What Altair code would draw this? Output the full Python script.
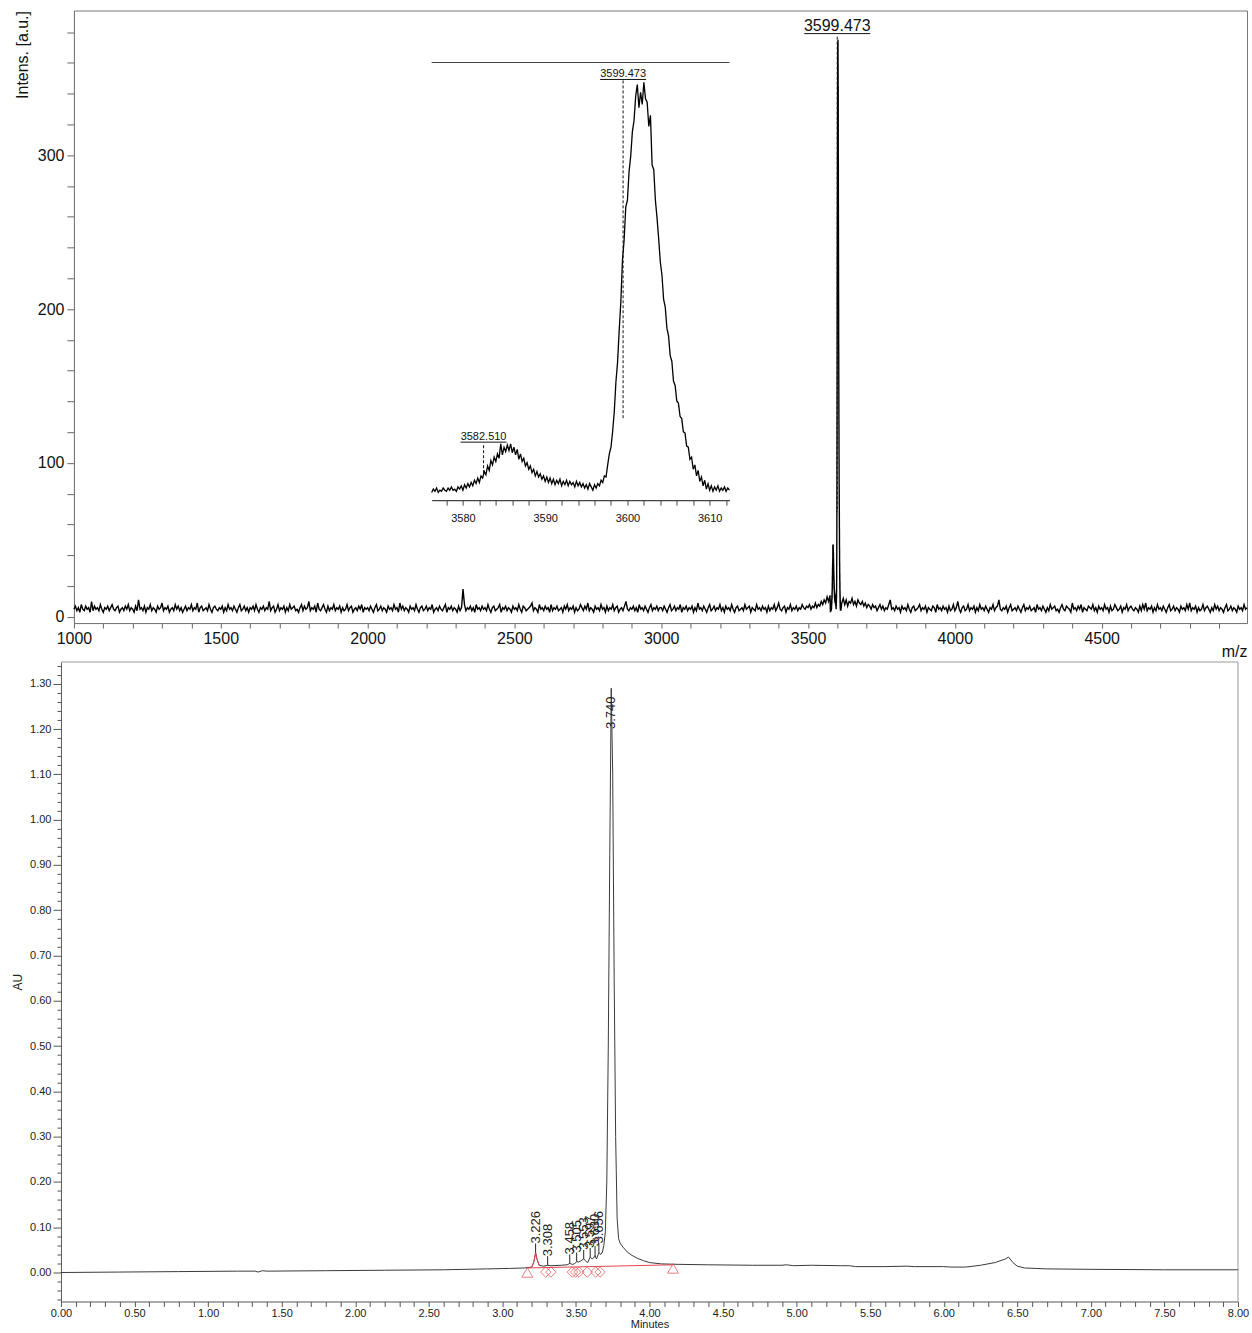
import altair as alt
import numpy as np
import pandas as pd

FONT = "Liberation Sans"
NARROW = "Liberation Sans Narrow, Liberation Sans"

# ---------------- MALDI-TOF spectrum ----------------
# baseline counts, one reading every 5 m/z
noise_1000_1995 = [
    5, 7, 4, 6, 3, 8, 5, 4, 7, 5, 6, 3, 10, 4, 7, 5, 6, 4, 8, 5,
    3, 6, 5, 7, 4, 6, 8, 5, 4, 6, 7, 3, 5, 6, 4, 7, 5, 8, 4, 6,
    5, 3, 7, 4, 11, 5, 6, 4, 7, 3, 6, 5, 8, 4, 6, 5, 3, 7, 5, 6,
    9, 4, 6, 5, 7, 3, 5, 6, 4, 8, 5, 7, 4, 6, 3, 5, 7, 4, 6, 5,
    8, 4, 6, 5, 9, 3, 6, 7, 4, 5, 6, 4, 8, 5, 3, 6, 7, 5, 4, 6,
    5, 7, 3, 6, 4, 8, 5, 6, 4, 7, 5, 3, 6, 8, 4, 5, 7, 4, 6, 3,
    6, 5, 7, 4, 8, 5, 3, 6, 5, 7, 4, 6, 5, 10, 4, 6, 7, 3, 5, 8,
    4, 6, 5, 7, 3, 6, 4, 8, 5, 6, 7, 4, 5, 3, 6, 8, 4, 7, 5, 6,
    10, 4, 6, 5, 7, 3, 9, 5, 4, 6, 8, 5, 3, 7, 4, 6, 5, 8, 4, 6,
    5, 7, 3, 6, 4, 5, 8, 4, 6, 7, 3, 5, 6, 4, 7, 5, 8, 3, 6, 5,
]
noise_2000_2995 = [
    6, 4, 7, 5, 3, 6, 8, 4, 5, 7, 4, 6, 5, 3, 7, 5, 6, 4, 8, 5,
    6, 3, 9, 5, 7, 4, 6, 5, 3, 7, 5, 6, 4, 8, 5, 3, 6, 7, 4, 5,
    7, 4, 6, 5, 8, 3, 5, 6, 4, 7, 5, 4, 6, 8, 3, 6, 5, 7, 4, 6,
    5, 3, 7, 4, 6, 18, 8, 4, 6, 5, 7, 4, 6, 3, 8, 5, 6, 4, 7, 5,
    6, 4, 8, 5, 3, 6, 7, 4, 5, 6, 8, 3, 6, 5, 7, 4, 6, 5, 3, 7,
    5, 6, 4, 8, 5, 3, 7, 6, 4, 5, 6, 7, 9, 4, 6, 5, 3, 8, 5, 6,
    4, 7, 5, 6, 3, 8, 4, 6, 5, 7, 4, 5, 6, 3, 7, 5, 8, 4, 6, 5,
    7, 3, 6, 4, 5, 8, 6, 4, 7, 5, 9, 4, 6, 5, 3, 7, 5, 6, 4, 8,
    5, 6, 3, 7, 4, 6, 5, 8, 4, 6, 7, 3, 5, 6, 4, 7, 10, 5, 4, 6,
    5, 7, 4, 6, 3, 8, 5, 6, 4, 7, 5, 3, 6, 8, 4, 6, 5, 7, 4, 6,
]
noise_3000_3575 = [
    6, 4, 7, 5, 3, 6, 8, 4, 5, 7, 4, 6, 5, 8, 3, 6, 5, 7, 4, 6,
    5, 7, 3, 6, 4, 9, 5, 6, 4, 7, 5, 3, 6, 8, 4, 5, 7, 4, 6, 5,
    8, 4, 6, 3, 7, 5, 6, 4, 8, 5, 3, 6, 7, 4, 5, 6, 4, 8, 5, 6,
    7, 3, 6, 5, 4, 8, 5, 6, 4, 7, 5, 6, 3, 7, 4, 6, 5, 8, 4, 6,
    9, 5, 4, 6, 7, 3, 6, 5, 8, 4, 6, 5, 7, 4, 6, 5, 8, 6, 5, 7,
    6, 8, 5, 7, 6, 9, 6, 8, 7, 10, 8, 11, 9, 13, 10, 14,
]
noise_3615_4995 = [
    9, 12, 8, 11, 7, 10, 9, 12, 8, 10, 7, 11, 9, 8, 10, 7, 9, 6, 8, 7,
    5, 8, 6, 7, 4, 6, 8, 5, 7, 4, 6, 5, 8, 11, 5, 6, 4, 7, 5, 6,
    3, 7, 5, 6, 4, 8, 5, 3, 6, 7, 4, 5, 6, 8, 4, 6, 5, 7, 3, 6,
    5, 4, 7, 6, 3, 8, 5, 6, 4, 7, 5, 6, 3, 7, 4, 5, 8, 4, 6, 10,
    5, 3, 6, 7, 4, 5, 8, 4, 6, 5, 7, 3, 6, 4, 8, 5, 6, 4, 7, 5,
    3, 6, 5, 8, 4, 6, 7, 11, 5, 4, 6, 5, 7, 3, 6, 8, 4, 5, 6, 4,
    7, 5, 3, 6, 8, 4, 6, 5, 7, 4, 5, 6, 3, 8, 5, 6, 4, 7, 5, 3,
    6, 4, 8, 5, 6, 7, 4, 5, 3, 6, 8, 5, 4, 7, 6, 5, 3, 9, 5, 6,
    4, 7, 5, 8, 3, 6, 5, 4, 7, 6, 5, 8, 4, 6, 3, 7, 5, 6, 4, 8,
    5, 6, 3, 7, 4, 5, 8, 6, 4, 5, 7, 3, 6, 5, 8, 4, 6, 7, 5, 4,
    6, 5, 3, 7, 4, 8, 5, 9, 4, 6, 5, 7, 3, 6, 4, 8, 5, 6, 4, 7,
    5, 3, 6, 8, 4, 5, 7, 4, 6, 5, 3, 7, 5, 6, 4, 8, 5, 9, 4, 6,
    5, 7, 3, 6, 4, 5, 8, 4, 6, 7, 5, 3, 6, 4, 8, 5, 7, 4, 6, 5,
    3, 6, 8, 4, 5, 7, 4, 6, 5, 3, 7, 5, 6, 4, 8, 5, 6,
]
baseline_segments = [
    (1000, noise_1000_1995),
    (2000, noise_2000_2995),
    (3000, noise_3000_3575),
    (3615, noise_3615_4995),
]
BASELINE_STEP = 5

# molecular-ion region, one reading every 0.2 m/z starting at 3576.2
cluster_mz_start = 3576.2
cluster_mz_step = 0.2
cluster_intensity = [
    3, 6, 4, 7, 3, 5, 4, 7, 5, 4, 7, 5, 8, 5, 6, 4, 8, 6, 9, 5,
    10, 7, 11, 8, 12, 9, 14, 11, 16, 12, 18, 16, 22, 19, 27, 23, 32, 28, 35, 31,
    38, 34, 47, 37, 44, 40, 46, 41, 47, 39, 44, 37, 42, 33, 38, 31, 34, 27, 30, 24,
    27, 21, 24, 18, 22, 17, 20, 15, 18, 13, 17, 12, 16, 11, 15, 10, 14, 11, 15, 9,
    13, 10, 14, 9, 13, 10, 12, 8, 13, 9, 12, 8, 11, 7, 10, 6, 11, 8, 5, 10,
    7, 11, 9, 14, 12, 18, 17, 28, 38, 44, 58, 76, 103, 121, 150, 176, 214, 232, 262, 268,
    294, 308, 330, 340, 362, 373, 352, 366, 355, 375, 360, 357, 335, 345, 300, 296, 268, 252, 233, 212,
    200, 178, 171, 152, 145, 127, 122, 104, 100, 86, 84, 72, 70, 58, 57, 45, 44, 33, 35, 24,
    28, 18, 23, 13, 17, 9, 14, 6, 11, 5, 9, 4, 8, 5, 9, 4, 7, 5, 8, 4,
    7, 5,
]

main_peak_mz = [3599.473]
zoom_peak_mz = [3599.473, 3582.510]

# ---------------- HPLC chromatogram ----------------
chrom_time = [
    0.00, 0.40, 0.80, 1.20, 1.32, 1.34, 1.37, 1.40, 1.80, 2.20, 2.60, 2.90, 3.05, 3.15,
    3.20, 3.215, 3.226, 3.235, 3.25, 3.28, 3.308, 3.33, 3.40, 3.44, 3.458, 3.475, 3.49,
    3.505, 3.52, 3.535, 3.553, 3.57, 3.58, 3.597, 3.61, 3.62, 3.630, 3.64, 3.656, 3.67,
    3.68, 3.69, 3.70, 3.71, 3.72, 3.73, 3.74, 3.75, 3.76, 3.77, 3.78, 3.79, 3.80, 3.82,
    3.85, 3.88, 3.92, 3.96, 4.00, 4.08, 4.20, 4.40, 4.70, 4.90, 4.93, 4.98, 5.10, 5.30,
    5.36, 5.40, 5.60, 5.75, 5.80, 6.00, 6.05, 6.15, 6.25, 6.35, 6.42, 6.44, 6.47, 6.50,
    6.55, 6.70, 7.00, 7.50, 8.00,
]
chrom_au = [
    0.000, 0.001, 0.002, 0.003, 0.003, 0.001, 0.004, 0.003, 0.004, 0.005, 0.006, 0.008, 0.009, 0.010,
    0.012, 0.024, 0.044, 0.030, 0.016, 0.014, 0.016, 0.015, 0.016, 0.017, 0.020, 0.018, 0.019,
    0.024, 0.023, 0.026, 0.030, 0.024, 0.022, 0.034, 0.030, 0.032, 0.038, 0.030, 0.044, 0.040,
    0.045, 0.060, 0.090, 0.200, 0.500, 0.920, 1.290, 1.100, 0.650, 0.300, 0.120, 0.075, 0.065, 0.056,
    0.045, 0.038, 0.031, 0.026, 0.022, 0.019, 0.018, 0.017, 0.016, 0.016, 0.017, 0.015, 0.016, 0.015,
    0.015, 0.013, 0.013, 0.014, 0.013, 0.013, 0.012, 0.012, 0.016, 0.022, 0.030, 0.034, 0.022, 0.014,
    0.010, 0.008, 0.007, 0.006, 0.006,
]
peak_times = [3.226, 3.308, 3.458, 3.505, 3.553, 3.597, 3.630, 3.656, 3.740]

# integration marks: baseline start/end triangles and peak-boundary diamonds
baseline_time = [3.17, 4.16]
baseline_au = [0.010, 0.017]
triangle_time = [3.17, 4.16]
triangle_au = [0.000, 0.009]
diamond_time = [3.295, 3.330, 3.476, 3.498, 3.521, 3.577, 3.635, 3.664]
diamond_au = [0.001, 0.001, 0.001, 0.001, 0.001, 0.001, 0.001, 0.001]

RED = "#e5474b"

# ---------------- tables ----------------
parts = []
for start, counts in baseline_segments:
    parts.append(pd.DataFrame({
        "mz": start + BASELINE_STEP * np.arange(len(counts)),
        "intensity": counts,
    }))
cluster_df = pd.DataFrame({
    "mz": np.round(cluster_mz_start + cluster_mz_step * np.arange(len(cluster_intensity)), 1),
    "intensity": cluster_intensity,
})
parts.append(cluster_df)
spectrum_df = pd.concat(parts, ignore_index=True).sort_values("mz")

chrom_df = pd.DataFrame({"t": chrom_time, "au": chrom_au})
apex_lookup = dict(zip(chrom_time, chrom_au))
peaks_df = pd.DataFrame({
    "t": peak_times,
    "text": [f"{t:.3f}" for t in peak_times],
    "apex": [apex_lookup[t] for t in peak_times],
})
major = peaks_df["apex"] > 1.0
peaks_df["label_at"] = np.where(major, peaks_df["apex"] - 0.09, peaks_df["apex"] + 0.02)
peaks_df["lead_top"] = peaks_df["apex"] + 0.02
peaks_df["minor"] = ~major

baseline_df = pd.DataFrame({"t": baseline_time, "au": baseline_au})
tri_df = pd.DataFrame({"t": triangle_time, "au": triangle_au})
dia_df = pd.DataFrame({"t": diamond_time, "au": diamond_au})

main_labels_df = pd.DataFrame({"mz": main_peak_mz, "text": [f"{m:.3f}" for m in main_peak_mz]})
zoom_labels_df = pd.DataFrame({
    "mz": zoom_peak_mz,
    "text": [f"{m:.3f}" for m in zoom_peak_mz],
    "level": [377.6, 48.6],
    "tick_top": [376.7, 45.8],
    "tick_bottom": [68.5, 20.5],
})
one_row = pd.DataFrame({"k": [0]})

MANY = 1000  # keep every listed tick (no thinning)

# ---------------- top panel: mass spectrum ----------------
MZ_DOMAIN = [1000, 4995]
INT_DOMAIN = [-4, 394]
mz_scale = alt.Scale(domain=MZ_DOMAIN, nice=False, zero=False)
int_scale = alt.Scale(domain=INT_DOMAIN, nice=False, zero=False)

main_x = alt.X("mz:Q", scale=mz_scale, axis=alt.Axis(
    values=list(range(1000, 5000, 100)), tickCount=MANY,
    labelExpr="datum.value % 500 === 0 ? datum.label : ''",
    format="d", tickSize=5, tickColor="#666", domainColor="#777",
    labelFont=FONT, labelFontSize=16, labelColor="#111", labelPadding=2,
    labelFlush=False, labelOverlap=False, grid=False,
    title="m/z", titleFont=FONT, titleFontSize=16, titleFontWeight="normal",
    titleColor="#111", titleAnchor="end", titleBaseline="top", titleY=20,
))
main_y = alt.Y("intensity:Q", scale=int_scale, axis=alt.Axis(
    values=list(range(0, 381, 20)), tickCount=MANY,
    labelExpr="datum.value % 100 === 0 ? datum.label : ''",
    format="d", tickSize=7, tickColor="#666", domainColor="#777",
    labelFont=FONT, labelFontSize=16, labelColor="#111", labelPadding=3,
    labelOverlap=False, grid=False,
    title="Intens. [a.u.]", titleFont=FONT, titleFontSize=16, titleFontWeight="normal",
    titleColor="#111", titleAnchor="end", titlePadding=7,
))

spectrum = alt.Chart(spectrum_df).mark_line(color="black", strokeWidth=1.4).encode(x=main_x, y=main_y)
main_text = alt.Chart(main_labels_df).mark_text(
    font=FONT, fontSize=16, color="#111", baseline="alphabetic", dy=-3
).encode(x="mz:Q", y=alt.datum(379), text="text:N")
main_underline = alt.Chart(main_labels_df).mark_rule(
    color="#111", strokeWidth=1, xOffset=-33, x2Offset=33
).encode(x="mz:Q", x2="mz:Q", y=alt.datum(379))
main_tick = alt.Chart(main_labels_df).mark_rule(
    color="#111", strokeWidth=1, strokeDash=[3, 2]
).encode(x="mz:Q", y=alt.datum(377), y2=alt.datum(68))
main_layer = alt.layer(spectrum, main_text, main_underline, main_tick)

# magnified view of the molecular-ion region, drawn inside the spectrum panel
ZOOM_MZ = [3576.2, 3612.4]
ZOOM_INT = [-4, 393]
zoom_x_scale = alt.Scale(domain=ZOOM_MZ, range=[358, 656], nice=False, zero=False)
zoom_y_scale = alt.Scale(domain=ZOOM_INT, range=[490, 52], nice=False, zero=False)
zoom_x_axis = alt.Axis(
    orient="bottom", offset=-123,
    values=list(range(3578, 3613, 2)), tickCount=MANY,
    labelExpr="datum.value % 10 === 0 ? datum.label : ''",
    format="d", tickSize=5, tickColor="#444", domainColor="#444", domainWidth=1.2,
    labelFont=FONT, labelFontSize=11, labelColor="#111", labelPadding=7,
    labelFlush=False, labelOverlap=False, grid=False, title=None,
)
zoom_line = alt.Chart(cluster_df).mark_line(color="black", strokeWidth=1.3).encode(
    x=alt.X("mz:Q", scale=zoom_x_scale, axis=zoom_x_axis),
    y=alt.Y("intensity:Q", scale=zoom_y_scale, axis=None),
)
zoom_top = alt.Chart(one_row).mark_rule(color="#444", strokeWidth=1.2).encode(
    x=alt.datum(ZOOM_MZ[0]), x2=alt.datum(ZOOM_MZ[1]), y=alt.datum(ZOOM_INT[1])
)
zoom_text = alt.Chart(zoom_labels_df).mark_text(
    font=FONT, fontSize=11, color="#111", baseline="alphabetic", dy=-2
).encode(x="mz:Q", y="level:Q", text="text:N")
zoom_underline = alt.Chart(zoom_labels_df).mark_rule(
    color="#111", strokeWidth=1, xOffset=-23, x2Offset=23
).encode(x="mz:Q", x2="mz:Q", y="level:Q")
zoom_tick = alt.Chart(zoom_labels_df).mark_rule(
    color="#111", strokeWidth=1, strokeDash=[3, 2]
).encode(x="mz:Q", y="tick_top:Q", y2="tick_bottom:Q")
zoom_layer = alt.layer(zoom_line, zoom_top, zoom_text, zoom_underline, zoom_tick)

top = alt.layer(main_layer, zoom_layer).resolve_scale(
    x="independent", y="independent"
).properties(width=1174, height=613, view=alt.ViewBackground(stroke="#777", strokeWidth=1))

# ---------------- bottom panel: chromatogram ----------------
# the time axis starts 13 px left of the spectrum's plot edge
T_DOMAIN = [0, 8]
AU_DOMAIN = [-0.064, 1.348]
t_scale = alt.Scale(domain=T_DOMAIN, range=[-13, 1165], nice=False, zero=False)
au_scale = alt.Scale(domain=AU_DOMAIN, nice=False, zero=False)
major_tick = "abs(datum.value * 10 - round(datum.value * 10)) < 1e-6"

bot_x = alt.X("t:Q", scale=t_scale, axis=alt.Axis(
    values=[i / 10 for i in range(0, 81)], tickCount=MANY,
    labelExpr="abs(datum.value * 2 - round(datum.value * 2)) < 1e-6 ? datum.label : ''",
    format=".2f", tickSize=5, tickColor="#555", domainColor="#555",
    labelFont=FONT, labelFontSize=11, labelColor="#222", labelPadding=1,
    labelFlush=False, labelOverlap=False, grid=False,
    title="Minutes", titleFont=FONT, titleFontSize=11, titleFontWeight="normal",
    titleColor="#222", titlePadding=0,
))
bot_y = alt.Y("au:Q", scale=au_scale, axis=alt.Axis(
    values=[i / 50 for i in range(-3, 68)], tickCount=MANY, offset=13,
    labelExpr=major_tick + " ? datum.label : ''",
    format=".2f",
    tickSize={"condition": {"test": major_tick, "value": 8}, "value": 4},
    tickColor="#555", domainColor="#555",
    labelFont=FONT, labelFontSize=11, labelColor="#222", labelPadding=2,
    labelOverlap=False, grid=False,
    title="AU", titleFont=NARROW, titleFontSize=12, titleFontWeight="normal",
    titleColor="#222", titlePadding=5,
))

trace = alt.Chart(chrom_df).mark_line(color="#3a3a3a", strokeWidth=1).encode(x=bot_x, y=bot_y)
trace_red = alt.Chart(chrom_df).transform_filter(
    "datum.t >= 3.2 && datum.t <= 3.25"
).mark_line(color=RED, strokeWidth=1).encode(x="t:Q", y="au:Q")
base_line = alt.Chart(baseline_df).mark_line(color=RED, strokeWidth=1).encode(x="t:Q", y="au:Q")
triangles = alt.Chart(tri_df).mark_point(
    shape="triangle-up", filled=False, color=RED, size=120, strokeWidth=1
).encode(x="t:Q", y="au:Q")
diamonds = alt.Chart(dia_df).mark_point(
    shape="diamond", filled=False, color=RED, size=110, strokeWidth=1
).encode(x="t:Q", y="au:Q")
leads = alt.Chart(peaks_df).transform_filter("datum.minor").mark_rule(
    color="#222", strokeWidth=1
).encode(x="t:Q", y="apex:Q", y2="lead_top:Q")
peak_text = alt.Chart(peaks_df).mark_text(
    angle=270, align="left", baseline="middle", font=NARROW, fontSize=13, color="#222"
).encode(x="t:Q", y="label_at:Q", text="text:N")

# top and right edges of the chromatogram frame
frame_top = alt.Chart(one_row).mark_rule(color="#999", strokeWidth=1).encode(
    x=alt.datum(T_DOMAIN[0]), x2=alt.datum(T_DOMAIN[1]), y=alt.datum(AU_DOMAIN[1])
)
frame_right = alt.Chart(one_row).mark_rule(color="#999", strokeWidth=1).encode(
    x=alt.datum(T_DOMAIN[1]), y=alt.datum(AU_DOMAIN[0]), y2=alt.datum(AU_DOMAIN[1])
)

bottom = alt.layer(
    frame_top, frame_right, trace, base_line, trace_red, triangles, diamonds, leads, peak_text
).properties(width=1165, height=640, view=alt.ViewBackground(stroke="transparent"))

chart = alt.vconcat(top, bottom, spacing=-1).properties(
    padding={"left": 11, "top": 9, "right": 0, "bottom": 0},
    background="white",
)

chart.save("out.html", embed_options={"renderer": "svg", "actions": False})
